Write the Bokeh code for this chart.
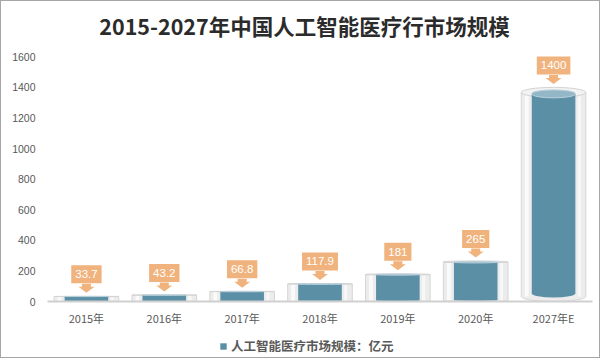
from bokeh.plotting import figure
from bokeh.layouts import column
from bokeh.models import FixedTicker, Range1d, Legend, LegendItem
from bokeh.core.properties import value
from bokeh.embed import file_html
from bokeh.resources import INLINE

# ---- data ----
categories = ["2015年", "2016年", "2017年", "2018年", "2019年", "2020年", "2027年E"]
values = [33.7, 43.2, 66.8, 117.9, 181, 265, 1400]
value_labels = ["33.7", "43.2", "66.8", "117.9", "181", "265", "1400"]
y_ticks = [0, 200, 400, 600, 800, 1000, 1200, 1400, 1600]
title_text = "2015-2027年中国人工智能医疗行市场规模"
legend_text = "人工智能医疗市场规模：亿元"

# ---- layout / style constants ----
W, H1, H2 = 598, 328, 28
FL, FR, FT, FB = 46, 7, 0, 28
FW, FH = W - FL - FR, H1 - FT - FB
Y_END = 1961.6
DX = 7.0 / FW          # data units per px (x)
DY = Y_END / FH        # data units per px (y)

BLUE = "#5B8FA6"
BLUE_TOP = "#93B7C7"
GRAY = "#ECECEC"
GRAY_EDGE = "#D6D6D6"
ORANGE = "#F1B37D"
TXT = "#595959"
CJK = "Noto Sans CJK SC"
LAT = "Liberation Sans"

idx = list(range(len(categories)))

p = figure(width=W, height=H1, title=None,
           x_range=Range1d(-0.5, 6.5), y_range=Range1d(0, Y_END),
           output_backend="svg", toolbar_location=None,
           min_border_left=FL, min_border_right=FR,
           min_border_top=FT, min_border_bottom=FB)
p.outline_line_color = None
p.xgrid.visible = False
p.ygrid.visible = False

# ---- title (drawn inside the top of the frame) ----
p.text(x=[3 - 15.5 * DX], y=[(FH - 24) * DY], text=[title_text], text_font=value(CJK),
       text_font_size="21.5px", text_font_style="bold", text_color="#2B2B2B",
       text_align="center", text_baseline="middle")

# ---- cylinders ----
GW, BW = 0.83, 0.56
he_g = [10.0 * v / 1400 for v in values]          # ellipse heights (px)
he_b = [0.8 * h for h in he_g]
g_top = [v - h / 2 * DY for v, h in zip(values, he_g)]
g_bot = [h / 2 * DY for h in he_g]
b_top = [v - (h / 2 + 0.15 * h) * DY for v, h in zip(values, he_g)]
b_bot = [(h / 2 + 0.3 * h) * DY for h in he_g]

p.ellipse(x=idx, y=g_bot, width=GW, height=he_g, height_units="screen",
          fill_color=GRAY, line_color=GRAY_EDGE, line_width=1)
p.quad(left=[i - GW / 2 for i in idx], right=[i + GW / 2 for i in idx],
       bottom=g_bot, top=g_top, fill_color=GRAY, line_color=None)
p.segment(x0=[i - GW / 2 for i in idx], x1=[i - GW / 2 for i in idx],
          y0=g_bot, y1=g_top, line_color=GRAY_EDGE, line_width=1)
p.segment(x0=[i + GW / 2 for i in idx], x1=[i + GW / 2 for i in idx],
          y0=g_bot, y1=g_top, line_color=GRAY_EDGE, line_width=1)
p.quad(left=[i - 0.37 for i in idx], right=[i - 0.32 for i in idx],
       bottom=g_bot, top=g_top, fill_color="#FAFAFA", line_color=None)
p.quad(left=[i + 0.31 for i in idx], right=[i + 0.35 for i in idx],
       bottom=g_bot, top=g_top, fill_color="#F7F7F7", line_color=None)
p.ellipse(x=idx, y=g_top, width=GW, height=he_g, height_units="screen",
          fill_color="#F3F3F3", line_color="#D3D3D3", line_width=1)

p.ellipse(x=idx, y=b_bot, width=BW, height=he_b, height_units="screen",
          fill_color=BLUE, line_color=None)
p.quad(left=[i - BW / 2 for i in idx], right=[i + BW / 2 for i in idx],
       bottom=b_bot, top=b_top, fill_color=BLUE, line_color=None)
p.ellipse(x=idx, y=b_top, width=BW, height=he_b, height_units="screen",
          fill_color=BLUE_TOP, line_color="#B9D0DA", line_width=1)

# ---- callouts ----
xs, ys = [], []
for i, v in zip(idx, values):
    sw, tw = 4.5 * DX, 8 * DX
    s0, s1, tip = 12.5 * DY, 9.5 * DY, 3.5 * DY
    xs.append([i - sw, i + sw, i + sw, i + tw, i, i - tw, i - sw])
    ys.append([v + s0, v + s0, v + s1, v + s1, v + tip, v + s1, v + s1])
p.patches(xs=xs, ys=ys, fill_color=ORANGE, line_color=None)
p.text(x=idx, y=[v + 22 * DY for v in values], text=value_labels,
       text_color="white", text_font=value(LAT), text_font_size="11.5px",
       text_align="center", text_baseline="middle",
       background_fill_color=ORANGE, padding=(4, 5))

# ---- axes ----
xa = p.xaxis[0]
xa.ticker = FixedTicker(ticks=idx)
xa.major_label_overrides = {i: c for i, c in zip(idx, categories)}
xa.axis_line_color = "#D0D0D0"
xa.axis_line_width = 2
xa.major_tick_line_color = None
xa.minor_tick_line_color = None
xa.major_tick_out = 0
xa.major_tick_in = 0
xa.major_label_standoff = 8
xa.major_label_text_font = CJK
xa.major_label_text_font_size = "11px"
xa.major_label_text_color = TXT

ya = p.yaxis[0]
ya.ticker = FixedTicker(ticks=y_ticks)
ya.axis_line_color = None
ya.major_tick_line_color = None
ya.minor_tick_line_color = None
ya.major_tick_out = 0
ya.major_tick_in = 0
ya.major_label_standoff = 12
ya.major_label_text_font = LAT
ya.major_label_text_font_size = "10.5px"
ya.major_label_text_color = TXT

# ---- legend strip (separate small figure under the chart; frame aligned with chart) ----
q = figure(width=W, height=H2, title=None, x_range=Range1d(0, 1), y_range=Range1d(0, 1),
           x_axis_location=None, y_axis_location=None,
           output_backend="svg", toolbar_location=None,
           min_border_left=0, min_border_right=0, min_border_top=0, min_border_bottom=0)
q.outline_line_color = None
q.xgrid.visible = False
q.ygrid.visible = False
marker = q.scatter(x=[-5], y=[-5], marker="square", fill_color=BLUE, line_color=None)
leg = Legend(items=[LegendItem(label=legend_text, renderers=[marker])],
             location=(168, 2), orientation="horizontal",
             glyph_width=16, glyph_height=16, label_height=16,
             label_standoff=0, padding=0, margin=0, spacing=0,
             border_line_color=None, background_fill_alpha=0,
             label_text_font=CJK, label_text_font_size="12.5px",
             label_text_font_style="bold", label_text_color=TXT)
q.add_layout(leg, "center")

layout = column(p, q, spacing=0, styles={"border": "1px solid #A6A6A6"})

open("out.html", "w").write(file_html(layout, INLINE))
